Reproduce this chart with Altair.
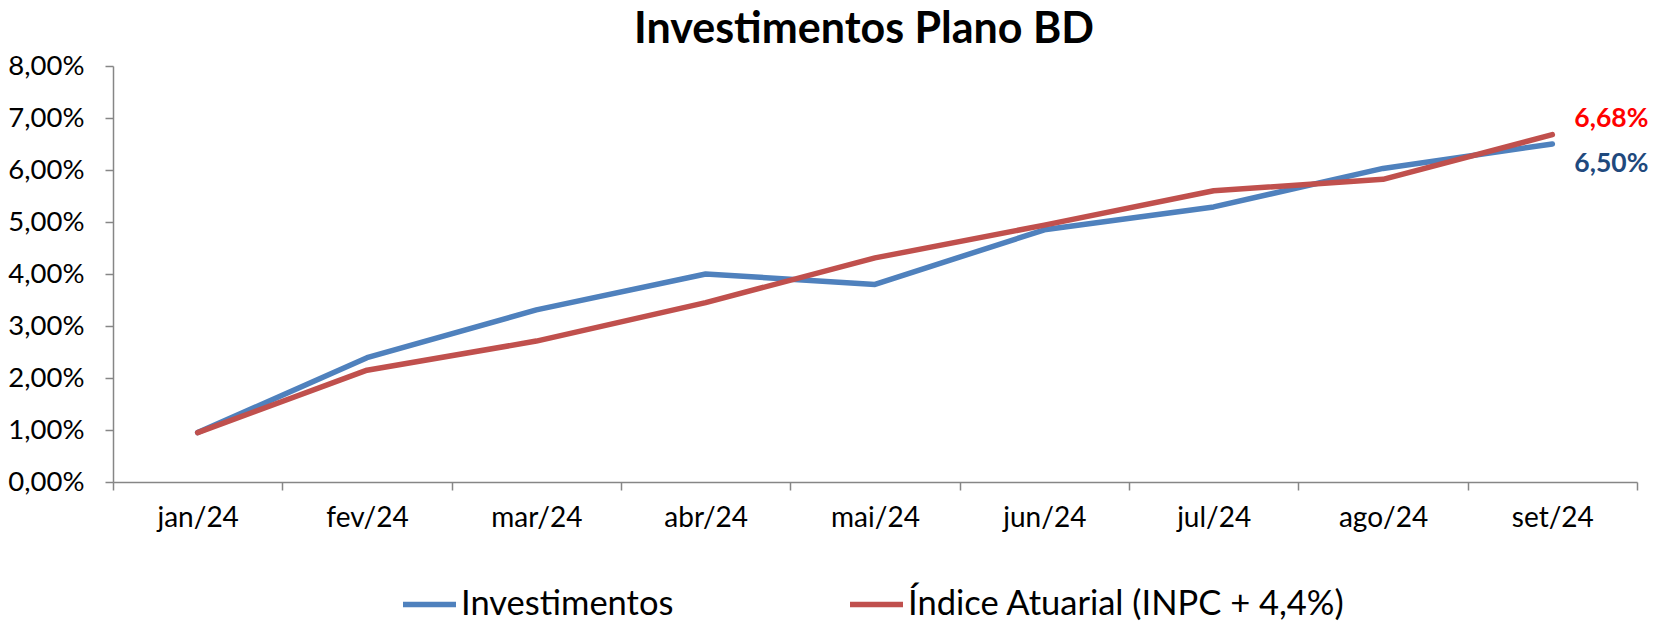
import altair as alt
import pandas as pd

months = ["jan/24", "fev/24", "mar/24", "abr/24", "mai/24", "jun/24", "jul/24", "ago/24", "set/24"]
investimentos = [0.95, 2.39, 3.31, 4.00, 3.80, 4.85, 5.29, 6.03, 6.50]
indice = [0.95, 2.15, 2.71, 3.45, 4.31, 4.94, 5.60, 5.82, 6.68]
series = ["Investimentos", "Índice Atuarial (INPC + 4,4%)"]
line_colors = ["#4F81BD", "#C0504D"]
end_label_colors = ["#1F497D", "#FF0000"]

FONT = "Lato"

rows = []
for s, vals in zip(series, [investimentos, indice]):
    for m, v in zip(months, vals):
        rows.append({"mes": m, "serie": s, "valor": v / 100.0})
df = pd.DataFrame(rows)

x_enc = alt.X(
    "mes:N",
    sort=months,
    scale=alt.Scale(domain=months, paddingInner=0, paddingOuter=0),
    axis=alt.Axis(
        title=None,
        tickBand="extent",
        labelAngle=0,
        labelFontSize=28,
        labelFont=FONT,
        labelColor="#000000",
        labelPadding=14,
        tickSize=8,
    ),
)
y_enc = alt.Y(
    "valor:Q",
    scale=alt.Scale(domain=[0, 0.08], nice=False),
    axis=alt.Axis(
        title=None,
        values=[i / 100 for i in range(0, 9)],
        labelExpr="replace(format(datum.value, '.2%'), '.', ',')",
        labelFontSize=27.5,
        labelFont=FONT,
        labelColor="#000000",
        labelPadding=21,
        tickSize=8,
        grid=False,
    ),
)

lines = alt.Chart(df).mark_line(strokeWidth=5.5, strokeCap="round", strokeJoin="round").encode(
    x=x_enc,
    y=y_enc,
    color=alt.Color(
        "serie:N",
        scale=alt.Scale(domain=series, range=line_colors),
        sort=series,
        legend=alt.Legend(
            title=None,
            orient="none",
            legendX=287,
            legendY=509,
            direction="horizontal",
            symbolType="stroke",
            symbolSize=2809,
            symbolStrokeWidth=5.5,
            labelFontSize=34.5,
            labelFont=FONT,
            labelColor="#000000",
            labelOffset=2,
            columnPadding=165,
            labelLimit=700,
        ),
    ),
)

last = months[-1]
lab_inv = pd.DataFrame([{"mes": last, "valor": investimentos[-1] / 100, "txt": f"{investimentos[-1]:.2f}%".replace(".", ",")}])
lab_ind = pd.DataFrame([{"mes": last, "valor": indice[-1] / 100, "txt": f"{indice[-1]:.2f}%".replace(".", ",")}])

t_inv = alt.Chart(lab_inv).mark_text(
    align="left", baseline="middle", dx=22, dy=20, fontSize=26.5, fontWeight="bold", font=FONT, color=end_label_colors[0]
).encode(x=alt.X("mes:N", sort=months), y="valor:Q", text="txt:N")
t_ind = alt.Chart(lab_ind).mark_text(
    align="left", baseline="middle", dx=22, dy=-16, fontSize=26.5, fontWeight="bold", font=FONT, color=end_label_colors[1]
).encode(x=alt.X("mes:N", sort=months), y="valor:Q", text="txt:N")

chart = alt.layer(lines, t_inv, t_ind).properties(
    width=1524,
    height=416,
    autosize=alt.AutoSizeParams(type="none"),
    padding={"left": 105, "top": 58, "right": 13, "bottom": 142},
    title=alt.TitleParams(
        "Investimentos Plano BD",
        fontSize=43,
        font=FONT,
        fontWeight="bold",
        color="#000000",
        anchor="middle",
        offset=3,
        dx=-11,
        dy=3,
    ),
).configure_view(stroke=None).configure_axis(
    domainColor="#868686",
    domainWidth=1.5,
    tickColor="#868686",
    tickWidth=1.5,
)

chart.save("out.html", embed_options={"renderer": "svg", "actions": False})
